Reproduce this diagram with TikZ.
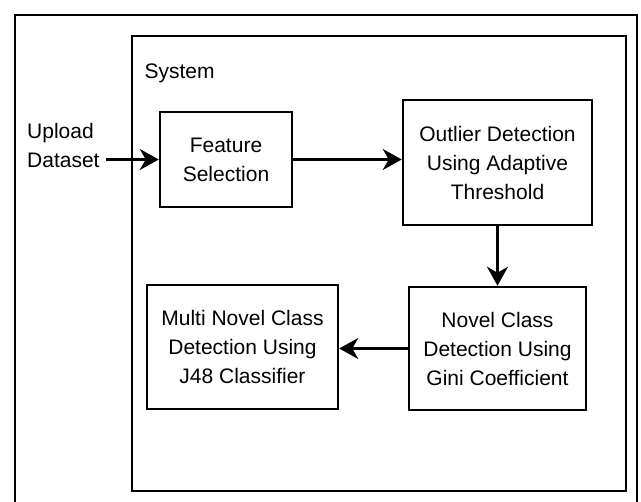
\documentclass[tikz,border=0pt]{standalone}
\usepackage{fontspec}
\setmainfont{Liberation Sans}
\usetikzlibrary{arrows.meta}

\begin{document}
\begin{tikzpicture}[x=1pt, y=-1pt,
	box/.style={draw, line width=2.5pt, align=center, inner sep=0pt, font=\fontsize{21}{29}\selectfont},
	flow/.style={line width=2.5pt, -{Stealth[length=19pt, width=21pt, inset=6pt]}},
	txt/.style={font=\fontsize{21}{29}\selectfont}]
	\useasboundingbox (0,0) rectangle (641,502);
	\fill[white] (0,0) rectangle (641,502);
	\draw[line width=2pt] (15,15) rectangle (637,530);
	\draw[line width=2.5pt] (132,36) rectangle (626,491);
	
	\node[txt, anchor=west] (system) at (141,73) {System};
	\node[txt, anchor=west, align=left, inner sep=6pt] (upload) at (21,145) {Upload\\Dataset};
	
	\node[box, minimum width=132, minimum height=95] (feat) at (226,159.5) {Feature\\Selection};
	\node[box, minimum width=189, minimum height=125] (outl) at (497.5,162.5) {Outlier Detection\\Using Adaptive\\Threshold};
	\node[box, minimum width=177, minimum height=123] (novel) at (497.5,348.5) {Novel Class\\Detection Using\\Gini Coefficient};
	\node[box, minimum width=191, minimum height=124] (multi) at (242.5,347) {Multi Novel Class\\Detection Using\\J48 Classifier};
	
	\draw[flow] (upload.east |- feat.west) -- (feat.west);
	\draw[flow] (feat.east) -- (feat.east -| outl.west);
	\draw[flow] (outl.south) -- (novel.north);
	\draw[flow] (novel.west) -- (novel.west -| multi.east);
\end{tikzpicture}
\end{document}
